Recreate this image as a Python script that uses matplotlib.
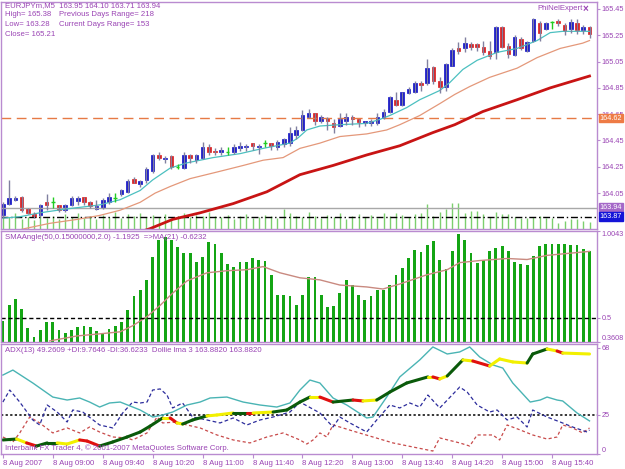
import numpy as np
import matplotlib
matplotlib.use('Agg')
import matplotlib.pyplot as plt
from matplotlib.collections import LineCollection
from matplotlib.transforms import blended_transform_factory

# EURJPYm M5, 8 Aug 2007 08:20 .. 16:10
opens = [163.88, 163.97, 164.00, 164.02, 163.94, 163.89, 163.88, 163.98, 163.98, 163.96,
         163.92, 163.96, 163.99, 164.02, 163.98, 163.93, 163.94, 163.98, 164.01, 164.04,
         164.06, 164.16, 164.12, 164.15, 164.22, 164.34, 164.31, 164.33, 164.25, 164.24,
         164.34, 164.30, 164.32, 164.40, 164.37, 164.36, 164.36, 164.36, 164.39, 164.40,
         164.43, 164.40, 164.43, 164.43, 164.40, 164.42, 164.43, 164.49, 164.53, 164.63,
         164.66, 164.60, 164.62, 164.58, 164.56, 164.60, 164.63, 164.61, 164.58, 164.58,
         164.58, 164.62, 164.67, 164.76, 164.72, 164.81, 164.82, 164.89, 164.89, 165.01,
         164.90, 164.86, 165.02, 165.15, 165.15, 165.18, 165.18, 165.16, 165.13, 165.12,
         165.31, 165.17, 165.10, 165.22, 165.13, 165.21, 165.34, 165.30, 165.35, 165.36,
         165.33, 165.30, 165.34, 165.29, 165.31]
highs = [163.98, 164.15, 164.03, 164.03, 163.94, 163.91, 163.97, 164.04, 164.02, 163.96,
         163.97, 164.03, 164.03, 164.02, 163.99, 164.00, 164.01, 164.05, 164.05, 164.08,
         164.16, 164.17, 164.15, 164.25, 164.35, 164.36, 164.33, 164.34, 164.27, 164.36,
         164.35, 164.35, 164.44, 164.42, 164.39, 164.40, 164.40, 164.42, 164.44, 164.42,
         164.43, 164.42, 164.45, 164.43, 164.45, 164.47, 164.55, 164.56, 164.68, 164.69,
         164.66, 164.64, 164.63, 164.61, 164.66, 164.66, 164.64, 164.61, 164.60, 164.61,
         164.66, 164.69, 164.79, 164.82, 164.82, 164.86, 164.90, 164.90, 165.07, 165.02,
         164.93, 165.04, 165.15, 165.20, 165.24, 165.20, 165.19, 165.21, 165.21, 165.32,
         165.32, 165.19, 165.25, 165.24, 165.21, 165.38, 165.36, 165.35, 165.36, 165.37,
         165.34, 165.37, 165.37, 165.33, 165.32]
lows = [163.86, 163.96, 163.99, 163.91, 163.89, 163.86, 163.87, 163.92, 163.94, 163.91,
        163.91, 163.95, 163.96, 163.96, 163.94, 163.92, 163.93, 163.97, 163.98, 164.03,
        164.05, 164.13, 164.10, 164.13, 164.20, 164.30, 164.28, 164.23, 164.23, 164.23,
        164.28, 164.28, 164.31, 164.34, 164.34, 164.34, 164.34, 164.35, 164.37, 164.37,
        164.38, 164.35, 164.40, 164.38, 164.38, 164.40, 164.41, 164.46, 164.52, 164.62,
        164.57, 164.58, 164.53, 164.51, 164.55, 164.57, 164.57, 164.55, 164.56, 164.56,
        164.57, 164.61, 164.66, 164.71, 164.71, 164.80, 164.81, 164.83, 164.87, 164.88,
        164.81, 164.83, 165.02, 165.11, 165.12, 165.14, 165.13, 165.10, 165.07, 165.07,
        165.15, 165.08, 165.09, 165.14, 165.12, 165.20, 165.21, 165.29, 165.30, 165.32,
        165.25, 165.27, 165.26, 165.26, 165.23]
closes = [163.97, 164.01, 164.01, 163.92, 163.90, 163.87, 163.96, 163.96, 163.98, 163.92,
          163.96, 164.01, 164.01, 163.98, 163.95, 163.95, 164.00, 164.02, 164.01, 164.07,
          164.14, 164.13, 164.14, 164.23, 164.34, 164.32, 164.32, 164.25, 164.25, 164.34,
          164.32, 164.34, 164.40, 164.36, 164.36, 164.38, 164.36, 164.40, 164.41, 164.41,
          164.41, 164.41, 164.43, 164.41, 164.44, 164.46, 164.51, 164.53, 164.64, 164.66,
          164.60, 164.63, 164.60, 164.55, 164.61, 164.63, 164.61, 164.59, 164.60, 164.60,
          164.63, 164.67, 164.78, 164.72, 164.82, 164.84, 164.89, 164.87, 165.00, 164.90,
          164.86, 165.03, 165.14, 165.13, 165.19, 165.16, 165.16, 165.12, 165.09, 165.31,
          165.16, 165.11, 165.24, 165.15, 165.20, 165.37, 165.27, 165.34, 165.35, 165.34,
          165.28, 165.35, 165.29, 165.31, 165.26]
volumes = [14, 12, 16, 10, 12, 9, 14, 11, 13, 10, 15, 12, 16, 11, 13, 10, 14, 12, 17, 11,
           15, 13, 16, 12, 14, 12, 15, 11, 13, 16, 12, 14, 13, 17, 13, 12, 14, 10, 13, 15,
           11, 12, 14, 13, 11, 20, 16, 13, 12, 17, 13, 11, 14, 12, 16, 10, 13, 15, 12, 14,
           11, 16, 13, 16, 14, 12, 15, 16, 25, 13, 17, 20, 26, 26, 16, 18, 18, 15, 12, 17,
           15, 15, 12, 11, 11, 12, 13, 11, 11, 6, 8, 10, 10, 8, 7]

ma_fast_x = [0, 2.7, 5.9, 10.3, 15.5, 18.8, 22, 24, 26.8, 29.5, 33.7, 38, 41.7, 46, 47.3, 48.7,
             50.8, 54, 58.3, 60.4, 62, 64.7, 66.8, 70, 71.6, 73.7, 76, 79.2, 82.4, 85.6, 87.7,
             89.7, 92.9, 94]
ma_fast_y = [163.86, 163.87, 163.90, 163.93, 163.96, 164.00, 164.07, 164.15, 164.24, 164.28,
             164.32, 164.35, 164.39, 164.43, 164.47, 164.53, 164.56, 164.57, 164.58, 164.61,
             164.64, 164.70, 164.76, 164.83, 164.89, 164.99, 165.06, 165.12, 165.15, 165.21,
             165.27, 165.28, 165.28, 165.28]
ma_mid_x = [1, 3.5, 7.5, 11.9, 15.5, 18.8, 22, 24.4, 26.8, 30, 34.3, 38.5, 41.7, 44.9, 47.6,
            50.8, 54, 58.3, 61.5, 63.6, 66.8, 70, 72.4, 74.8, 78, 82.4, 85.6, 89.3, 92.9, 94]
ma_mid_y = [163.75, 163.78, 163.82, 163.85, 163.88, 163.92, 163.98, 164.05, 164.10, 164.16,
            164.21, 164.26, 164.30, 164.32, 164.39, 164.43, 164.48, 164.50, 164.53, 164.57,
            164.64, 164.73, 164.80, 164.86, 164.93, 165.00, 165.08, 165.15, 165.19, 165.21]
ma_slow_x = [21, 23.6, 27.2, 31.6, 36.9, 42.3, 47.6, 52.9, 58.3, 63.6, 68.9, 72.4, 76.9, 82.4,
             87.7, 94]
ma_slow_y = [163.74, 163.78, 163.85, 163.90, 163.97, 164.06, 164.19, 164.26, 164.34, 164.41,
             164.51, 164.57, 164.67, 164.76, 164.85, 164.94]

angle = [0.485, 0.573, 0.609, 0.550, 0.443, 0.390, 0.432, 0.479, 0.479, 0.432,
         0.414, 0.432, 0.449, 0.455, 0.449, 0.426, 0.414, 0.438, 0.455, 0.479,
         0.544, 0.626, 0.662, 0.721, 0.851, 0.951, 0.969, 0.951, 0.910, 0.874,
         0.874, 0.827, 0.851, 0.939, 0.928, 0.874, 0.815, 0.798, 0.827, 0.827,
         0.845, 0.839, 0.833, 0.750, 0.632, 0.632, 0.626, 0.573, 0.632, 0.739,
         0.739, 0.632, 0.561, 0.567, 0.644, 0.721, 0.691, 0.632, 0.603, 0.626,
         0.662, 0.662, 0.691, 0.750, 0.792, 0.845, 0.892, 0.880, 0.922, 0.945,
         0.839, 0.786, 0.886, 0.987, 0.951, 0.874, 0.821, 0.839, 0.886, 0.904,
         0.916, 0.886, 0.827, 0.815, 0.809, 0.857, 0.916, 0.928, 0.928, 0.928,
         0.928, 0.922, 0.922, 0.898, 0.886]
angle_ma_x = [7.5, 11.9, 15.5, 18.8, 20.8, 23.1, 25.2, 27.2, 29.5, 32.7, 35.9, 39.1, 41.7, 44.4,
              47.6, 50.8, 54, 58.3, 60.9, 63.6, 67.9, 71.2, 73.2, 76.4, 80.8, 84, 87.2, 90.4, 94]
angle_ma_y = [0.367, 0.396, 0.408, 0.420, 0.455, 0.508, 0.573, 0.644, 0.715, 0.762, 0.774,
              0.780, 0.798, 0.762, 0.733, 0.721, 0.691, 0.680, 0.668, 0.697, 0.750, 0.780,
              0.821, 0.833, 0.845, 0.839, 0.863, 0.874, 0.886]

adx_x = [0, 1.6, 4.8, 8, 10.3, 12.3, 13.9, 15.5, 17.1, 18.8, 22, 24, 25.6, 27.2, 29.5, 31.6,
         33.2, 35.9, 38.5, 41.2, 43.9, 46, 47.6, 49.2, 50.8, 52.9, 55.1, 58.3, 59.3, 61.5,
         63.6, 66.8, 68.9, 71.2, 73.2, 74.8, 76.4, 78.5, 80.1, 81.7, 84.5, 86.1, 87.2, 88.8,
         89.7, 92, 94]
adx_y = [50.6, 53.8, 45.5, 36.5, 34.6, 35.9, 33.3, 30.1, 32.7, 33.3, 28.2, 23.7, 25.0, 26.9,
         31.4, 33.3, 35.9, 36.5, 33.3, 31.4, 30.1, 32.7, 41.0, 47.4, 45.5, 35.9, 31.4, 23.1,
         23.7, 36.5, 49.4, 60.3, 68.6, 64.1, 65.4, 68.6, 62.2, 57.1, 55.1, 45.5, 33.3, 34.6,
         36.5, 34.6, 34.0, 26.3, 21.2]
pdi_x = [0, 1.1, 2.7, 4.8, 5.9, 7.1, 8.7, 10.3, 11.2, 12.8, 15.5, 17.6, 19.2, 20.8, 22, 23.1,
         24, 25.2, 26.3, 27.2, 28.8, 30.4, 32.7, 34.8, 36.9, 39.1, 41.2, 43.3, 46, 47.6, 50.8,
         52.9, 54, 55.6, 58.3, 59.9, 62, 63.6, 65.2, 66.8, 68.1, 70, 73.2, 74.4, 76, 78, 79.2,
         80.8, 82.4, 84, 84.9, 87.2, 89.3, 91.3, 93.6, 94]
pdi_y = [33.3, 41.0, 33.3, 21.8, 18.6, 31.4, 26.9, 20.5, 28.2, 26.9, 18.6, 16.7, 26.3, 33.3,
         32.7, 33.3, 41.0, 41.7, 37.8, 29.5, 32.7, 23.7, 21.8, 19.9, 23.1, 18.6, 21.8, 23.7,
         26.9, 33.3, 26.3, 17.3, 23.7, 19.9, 14.1, 21.8, 31.4, 29.5, 32.7, 30.1, 37.8, 29.5,
         42.9, 39.7, 31.4, 26.9, 28.2, 21.8, 23.7, 17.3, 28.2, 23.7, 20.5, 17.3, 14.1, 15.4]
mdi_x = [0, 1.6, 2.7, 4.3, 5.9, 8, 10.3, 12.3, 13.9, 15.5, 17.6, 19.9, 20.8, 23.1, 24.7, 25.6,
         27.9, 29.5, 31.6, 34.3, 36.9, 39.6, 42.3, 44.9, 47.6, 48.7, 49.7, 50.8, 51.9, 52.9,
         54, 56.1, 59.3, 62.5, 65.7, 68.9, 70, 73.2, 74.8, 76, 78.5, 79.6, 80.8, 82.9, 84.9,
         87.2, 88.8, 89.7, 91.3, 92.9, 94]
mdi_y = [10.9, 7.7, 13.5, 23.7, 19.9, 13.5, 16.7, 13.5, 17.3, 14.1, 10.9, 10.3, 9.0, 13.5,
         23.7, 19.9, 20.5, 18.6, 16.7, 12.2, 9.0, 7.1, 10.9, 13.5, 9.0, 6.4, 9.0, 13.5, 10.9,
         18.6, 17.3, 14.7, 10.9, 7.1, 4.5, 1.9, 10.3, 7.1, 5.1, 12.2, 12.2, 9.0, 18.6, 15.4,
         12.2, 9.6, 10.9, 18.6, 16.7, 13.5, 16.7]
lma_x = [0, 2.2, 3.8, 5.4, 7.1, 8.7, 10.3, 12.3, 13.5, 15.5, 17.6, 19.9, 22, 23.6, 25.6, 26.8,
         27.9, 28.8, 30.4, 32.7, 34.3, 36.9, 39.1, 40.1, 43.3, 45.5, 47.6, 49.2, 50.8, 52.9,
         56.1, 57.7, 59.9, 62, 64.7, 68.1, 68.9, 70, 71.2, 73.7, 75.3, 78, 79.6, 81.7, 84,
         84.9, 87.2, 88.8, 89.7, 94]
lma_y = [9.0, 9.6, 7.1, 5.1, 7.1, 7.1, 6.4, 9.0, 8.3, 5.1, 7.7, 10.9, 14.1, 17.9, 23.1, 23.1,
         19.9, 19.2, 21.8, 24.4, 25.0, 26.3, 26.3, 26.3, 26.9, 28.2, 33.3, 36.5, 36.5, 33.3,
         34.6, 34.0, 34.6, 39.7, 45.5, 49.4, 49.4, 48.1, 50.0, 60.3, 59.6, 56.4, 60.9, 59.0,
         58.3, 64.1, 67.3, 66.0, 64.7, 64.1]
lma_state = ['g', 'y', 'r', 'g', 'g', 'y', 'y', 'r', 'r', 'g', 'g', 'g', 'g', 'g', 'y', 'r',
             'y', 'g', 'g', 'y', 'y', 'g', 'r', 'y', 'g', 'g', 'g', 'y', 'r', 'g', 'r', 'y',
             'g', 'g', 'g', 'y', 'r', 'y', 'g', 'y', 'r', 'y', 'y', 'y', 'g', 'g', 'y', 'r',
             'y']

time_labels = ['8 Aug 2007', '8 Aug 09:00', '8 Aug 09:40', '8 Aug 10:20', '8 Aug 11:00',
               '8 Aug 11:40', '8 Aug 12:20', '8 Aug 13:00', '8 Aug 13:40', '8 Aug 14:20',
               '8 Aug 15:00', '8 Aug 15:40']
price_ticks = [164.05, 164.25, 164.45, 164.65, 164.85, 165.05, 165.25, 165.45]

TXT = '#9a44b4'
FRAME = '#b98bd0'
plt.rcParams['font.family'] = ['Liberation Sans', 'DejaVu Sans']
FS = 5.6
RS = 5.2

W, H = 625, 469
fig = plt.figure(figsize=(W / 100, H / 100), dpi=100, facecolor='white')


def box(x0, y0, x1, y1):
    return [x0 / W, 1 - y1 / H, (x1 - x0) / W, (y1 - y0) / H]


def style(ax):
    for s in ax.spines.values():
        s.set_color(FRAME)
        s.set_linewidth(1)
    ax.yaxis.tick_right()
    ax.tick_params(axis='y', colors=FRAME, labelcolor=TXT, labelsize=RS, length=2, pad=1.5)
    ax.tick_params(axis='x', colors=FRAME, labelcolor=TXT, labelsize=FS, length=3, pad=1)
    ax.set_xlim(-0.3, 95.2)


n = len(closes)
xs = np.arange(n)

# main window
axv = fig.add_axes(box(1, 2, 597, 229))
axv.vlines(xs, 0, volumes, color='#7ccf6e', lw=1)
axv.set_ylim(0, max(volumes) * 227 / 26)
axv.set_xlim(-0.3, 95.2)
axv.axis('off')

ax1 = fig.add_axes(box(1, 2, 597, 229), label='price')
ax1.patch.set_alpha(0)
style(ax1)
ax1.set_ylim(163.777, 165.503)
ax1.axhline(164.62, color='#e67a45', lw=1, ls=(0, (7, 4)))
ax1.axhline(163.94, color='#a8a8a8', lw=1)
ax1.axhline(163.87, color='black', lw=1, ls=(0, (5, 2, 1, 2)))
ax1.plot(ma_slow_x, ma_slow_y, color='#c81414', lw=2)
ax1.plot(ma_mid_x, ma_mid_y, color='#e4987a', lw=0.9)
ax1.plot(ma_fast_x, ma_fast_y, color='#4cc0c0', lw=0.9)
for i in range(n):
    o, h, l, c = opens[i], highs[i], lows[i], closes[i]
    if c > o:
        col = '#1010c8'
    elif c < o:
        col = '#dd1a1a'
    else:
        col = '#22cc22'
    ax1.vlines(i, l, h, color='#8080a0' if c != o else col, lw=1)
    if c == o:
        ax1.hlines(o, i - 0.3, i + 0.3, color=col, lw=1)
    else:
        ax1.bar(i, abs(c - o), bottom=min(o, c), width=0.58, color=col, edgecolor=col, lw=0.5)
ax1.set_yticks(price_ticks)
ax1.set_yticklabels([f'{p:.2f}' for p in price_ticks])
ax1.set_xticks(range(0, n, 8))
ax1.tick_params(axis='x', labelbottom=False, length=0)
tr = blended_transform_factory(ax1.transAxes, ax1.transData)
for val, bg in [(164.62, '#ee7b45'), (163.94, '#a468c8'), (163.87, '#1414d8')]:
    ax1.text(1.004, val, f'{val:.2f}', transform=tr, fontsize=RS, color='white', va='center',
             ha='left', zorder=5, bbox=dict(boxstyle='square,pad=0.12', fc=bg, ec=bg))

fig.text(5 / W, 1 - 6 / H, 'EURJPYm,M5  163.95 164.10 163.71 163.94', color=TXT, fontsize=FS, va='center')
fig.text(5 / W, 1 - 15 / H, 'High= 165.38', color=TXT, fontsize=FS, va='center')
fig.text(59 / W, 1 - 15 / H, 'Previous Days Range= 218', color=TXT, fontsize=FS, va='center')
fig.text(5 / W, 1 - 25 / H, 'Low= 163.28', color=TXT, fontsize=FS, va='center')
fig.text(59 / W, 1 - 25 / H, 'Current Days Range= 153', color=TXT, fontsize=FS, va='center')
fig.text(5 / W, 1 - 34 / H, 'Close= 165.21', color=TXT, fontsize=FS, va='center')
fig.text(537 / W, 1 - 9 / H, 'PhiNelExpert', color=TXT, fontsize=FS, va='center')
fig.text(583 / W, 1 - 9 / H, '×', color=TXT, fontsize=FS + 1.5, va='center', fontweight='bold')

# SMAAngle window
ax2 = fig.add_axes(box(1, 231, 597, 342))
style(ax2)
ax2.set_ylim(0.3608, 1.0043)
ax2.bar(xs, np.array(angle) - 0.3608, bottom=0.3608, width=0.45, color='#14a514', lw=0)
ax2.plot(angle_ma_x, angle_ma_y, color='#c98a80', lw=1)
ax2.axhline(0.5, color='black', lw=1, ls=(0, (3, 2)))
ax2.set_yticks([1.0043, 0.5, 0.3608])
ax2.set_yticklabels(['1.0043', '0.5', '0.3608'])
labs = ax2.get_yticklabels()
labs[0].set_va('top')
labs[2].set_va('bottom')
ax2.set_xticks(range(0, n, 8))
ax2.tick_params(axis='x', labelbottom=False, length=0)
ax2.text(0.007, 0.975, 'SMAAngle(50,0.15000000,2.0) -1.1925  =>MA(21) -0.6232',
         transform=ax2.transAxes, color=TXT, fontsize=FS, va='top')

# ADX window
ax3 = fig.add_axes(box(1, 344, 597, 454))
style(ax3)
ax3.set_ylim(0, 70.5)
ax3.axhline(25, color='black', lw=1.1, ls=(0, (1.5, 1.5)))
ax3.plot(mdi_x, mdi_y, color='#c84a4a', lw=0.9, ls=(0, (2.5, 2)))
ax3.plot(pdi_x, pdi_y, color='#2c2c9c', lw=0.9, ls=(0, (3, 2)))
ax3.plot(adx_x, adx_y, color='#4ab4b4', lw=1)
state_col = {'g': '#0a5a0a', 'r': '#e01010', 'y': '#f2f000'}
segs = [[(lma_x[i], lma_y[i]), (lma_x[i + 1], lma_y[i + 1])] for i in range(len(lma_x) - 1)]
ax3.add_collection(LineCollection(segs, colors=[state_col[s] for s in lma_state], lw=2.2,
                                  capstyle='round'))
ax3.set_yticks([68, 25, 0])
ax3.set_yticklabels(['68', '25', '0'])
ax3.get_yticklabels()[2].set_va('bottom')
ax3.set_xticks(range(0, n, 8))
ax3.set_xticklabels(time_labels, ha='left')
ax3.text(0.007, 0.975, 'ADX(13) 49.2609 +DI:9.7646 -DI:36.6233  Dollie lma 3 163.8820 163.8820',
         transform=ax3.transAxes, color=TXT, fontsize=FS, va='top')
ax3.text(0.007, 0.02, 'Interbank FX Trader 4, © 2001-2007 MetaQuotes Software Corp.',
         transform=ax3.transAxes, color=TXT, fontsize=FS, va='bottom')

fig.savefig('out.png', dpi=100, facecolor='white')
